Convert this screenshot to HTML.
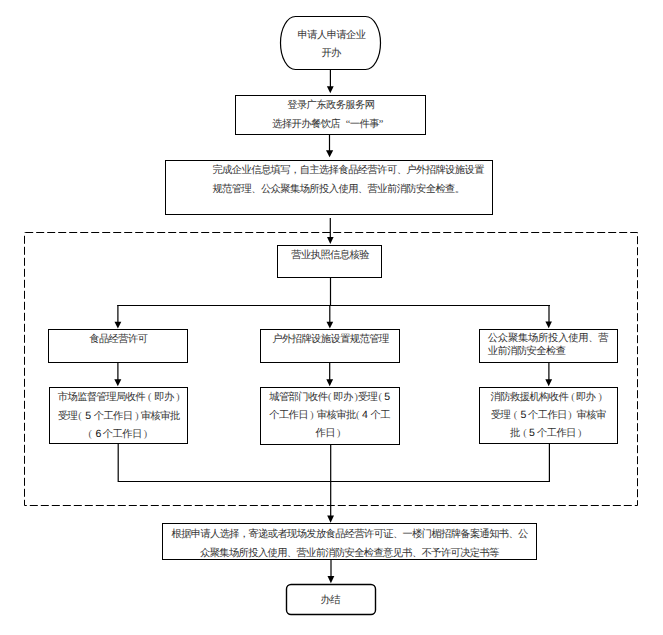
<!DOCTYPE html>
<html><head><meta charset="utf-8">
<style>
html,body{margin:0;padding:0;background:#fff;}
body{width:663px;height:635px;position:relative;overflow:hidden;font-family:"Liberation Serif",serif;color:#000;}
svg{position:absolute;left:0;top:0;}
.t{position:absolute;font-size:10.3px;letter-spacing:-0.6px;line-height:12px;white-space:nowrap;text-rendering:geometricPrecision;color:#333}
.s{font-family:"Liberation Serif",serif;font-size:10px;color:#555}
.d{font-family:"Liberation Sans",sans-serif;font-size:10.5px;color:#111;}
.ql{display:inline-block;width:9.7px;text-align:right;}
.qr{display:inline-block;width:9.7px;text-align:left;}
</style></head><body>
<svg width="663" height="635" viewBox="0 0 663 635" fill="none" stroke="#000" stroke-width="1">
<path d="M295.5,16.5 H365.5 A15,26.5 0 0 1 380.5,43 A15,26.5 0 0 1 365.5,69.5 H295.5 A15,26.5 0 0 1 280.5,43 A15,26.5 0 0 1 295.5,16.5 Z" stroke-width="1.2"/>
<rect x="235.5" y="95.5" width="190" height="39"/>
<rect x="165.5" y="160.5" width="327" height="54"/>
<rect x="277.5" y="245.5" width="104" height="32"/>
<rect x="48.5" y="329.5" width="139" height="33"/>
<rect x="260.5" y="329.5" width="139" height="33"/>
<rect x="479.5" y="329.5" width="138" height="33"/>
<rect x="49.5" y="387.5" width="138" height="56"/>
<rect x="260.5" y="387.5" width="139" height="57"/>
<rect x="479.5" y="387.5" width="138" height="56"/>
<rect x="162.5" y="523.5" width="374" height="36"/>
<rect x="286.5" y="584.5" width="89" height="30" rx="4.5" ry="4.5" stroke-width="1.4"/>
<path d="M24.5,232.5 H637.5 V505.5 H24.5 Z" stroke-dasharray="8 3" stroke-dashoffset="-0.7"/>
<g stroke-width="1.2">
<path d="M330.4,69.5 V88"/>
<path d="M329.5,134.5 V152"/>
<path d="M330.3,214.5 M330.3,218 V238"/>
<path d="M330.5,277.5 V305.5"/>
<path d="M117.3,305.5 H550"/>
<path d="M117.9,305 V323 M329.8,305 V323 M549,305 V323"/>
<path d="M117.9,362.5 V381 M329.7,362.5 V381 M548.9,362.5 V381"/>
<path d="M118.2,443.5 V481.5 M549.4,443.5 V481.5 M117.6,481.5 H550"/>
<path d="M330.7,444.5 V517"/>
<path d="M331,559 V577"/>
</g>
<g fill="#000" stroke="none">
<path d="M326.9,86.2 H333.7 L330.3,93.3 Z"/>
<path d="M326,150.2 H333.2 L329.6,157.3 Z"/>
<path d="M327,236.9 H333.6 L330.3,244 Z"/>
<path d="M114.5,321.8 H121.3 L117.9,328.6 Z"/>
<path d="M326.5,321.8 H333.2 L329.85,328.6 Z"/>
<path d="M545.4,321.5 H551.9 L548.7,328.3 Z"/>
<path d="M114.3,379.3 H121.3 L117.8,386.3 Z"/>
<path d="M326.3,379.2 H333.1 L329.7,386.2 Z"/>
<path d="M545.3,379.2 H552.1 L548.7,386.2 Z"/>
<path d="M327.2,515.5 H334 L330.6,522.7 Z"/>
<path d="M327.5,576.1 H334.3 L330.9,583.2 Z"/>
</g>
</svg>

<div class="t" style="left:297.60px;top:30px">申请人申请企业</div>
<div class="t" style="left:321.40px;top:48px">开办</div>
<div class="t" style="left:287.20px;top:100px">登录广东政务服务网</div>
<div class="t" style="left:272.20px;top:119px">选择开办餐饮店<span class="ql">“</span>一件事<span class="qr">”</span></div>
<div class="t" style="left:212.40px;top:165px">完成企业信息填写，自主选择食品经营许可、户外招牌设施设置</div>
<div class="t" style="left:212.40px;top:184px">规范管理、公众聚集场所投入使用、营业前消防安全检查。</div>
<div class="t" style="left:291.30px;top:250px">营业执照信息核验</div>
<div class="t" style="left:89.20px;top:334px">食品经营许可</div>
<div class="t" style="left:272.30px;top:334px">户外招牌设施设置规范管理</div>
<div class="t" style="left:487.80px;top:333px;letter-spacing:-0.25px">公众聚集场所投入使用、营</div>
<div class="t" style="left:487.80px;top:346px">业前消防安全检查</div>
<div class="t" style="left:57.80px;top:392px">市场监督管理局收件</div>
<div class="t s" style="left:147.90px;top:392px">(</div>
<div class="t" style="left:154.30px;top:392px">即办</div>
<div class="t s" style="left:176.30px;top:392px">)</div>
<div class="t" style="left:57.90px;top:411px">受理</div>
<div class="t s" style="left:78.30px;top:411px">(</div>
<div class="t d" style="left:85.20px;top:410px">5</div>
<div class="t" style="left:93.70px;top:411px">个工作日</div>
<div class="t s" style="left:135.30px;top:411px">)</div>
<div class="t" style="left:140.80px;top:411px">审核审批</div>
<div class="t s" style="left:88.50px;top:429px">(</div>
<div class="t d" style="left:95.40px;top:428px">6</div>
<div class="t" style="left:102.80px;top:429px">个工作日</div>
<div class="t s" style="left:143.70px;top:429px">)</div>
<div class="t" style="left:269.20px;top:392px">城管部门收件</div>
<div class="t s" style="left:327.90px;top:392px">(</div>
<div class="t" style="left:333.20px;top:392px">即办</div>
<div class="t s" style="left:354.50px;top:392px">)</div>
<div class="t" style="left:357.90px;top:392px">受理</div>
<div class="t s" style="left:378.60px;top:392px">(</div>
<div class="t d" style="left:384.30px;top:391px">5</div>
<div class="t" style="left:269.20px;top:410px">个工作日</div>
<div class="t s" style="left:310.30px;top:410px">)</div>
<div class="t" style="left:316.80px;top:410px">审核审批</div>
<div class="t s" style="left:356.10px;top:410px">(</div>
<div class="t d" style="left:362.00px;top:409px">4</div>
<div class="t" style="left:370.60px;top:410px">个工</div>
<div class="t" style="left:315.60px;top:428px">作日</div>
<div class="t s" style="left:336.90px;top:428px">)</div>
<div class="t" style="left:490.60px;top:392px">消防救援机构收件</div>
<div class="t s" style="left:571.30px;top:392px">(</div>
<div class="t" style="left:575.90px;top:392px">即办</div>
<div class="t s" style="left:598.40px;top:392px">)</div>
<div class="t" style="left:490.90px;top:410px">受理</div>
<div class="t s" style="left:513.70px;top:410px">(</div>
<div class="t d" style="left:520.60px;top:409px">5</div>
<div class="t" style="left:528.00px;top:410px">个工作日</div>
<div class="t s" style="left:568.30px;top:410px">)</div>
<div class="t" style="left:576.50px;top:410px">审核审</div>
<div class="t" style="left:509.90px;top:428px">批</div>
<div class="t s" style="left:523.30px;top:428px">(</div>
<div class="t d" style="left:529.10px;top:427px">5</div>
<div class="t" style="left:537.00px;top:428px">个工作日</div>
<div class="t s" style="left:577.90px;top:428px">)</div>
<div class="t" style="left:171.50px;top:529px;letter-spacing:-0.67px">根据申请人选择，寄递或者现场发放食品经营许可证、一楼门楣招牌备案通知书、公</div>
<div class="t" style="left:200.10px;top:548px;letter-spacing:-0.665px">众聚集场所投入使用、营业前消防安全检查意见书、不予许可决定书等</div>
<div class="t" style="left:320.50px;top:595px">办结</div>
</body></html>
